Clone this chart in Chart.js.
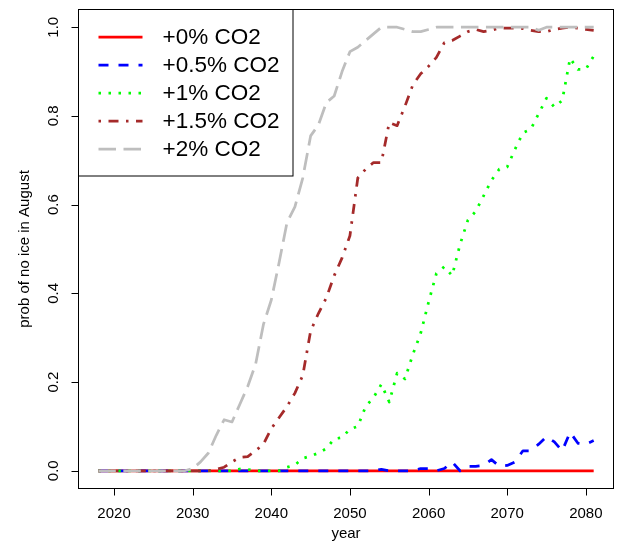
<!DOCTYPE html>
<html>
<head>
<meta charset="utf-8">
<script src="https://cdn.jsdelivr.net/npm/chart.js@4/dist/chart.umd.min.js"></script>
<style>
  html, body { margin: 0; padding: 0; background: #fff; }
  #wrap { width: 619px; height: 543px; }
</style>
</head>
<body>
<div id="wrap"><canvas id="c" width="619" height="543"></canvas></div>
<script>
const years = [
  2018, 2019, 2020, 2021, 2022, 2023, 2024, 2025, 2026, 2027,
  2028, 2029, 2030, 2031, 2032, 2033, 2034, 2035, 2036, 2037,
  2038, 2039, 2040, 2041, 2042, 2043, 2044, 2045, 2046, 2047,
  2048, 2049, 2050, 2051, 2052, 2053, 2054, 2055, 2056, 2057,
  2058, 2059, 2060, 2061, 2062, 2063, 2064, 2065, 2066, 2067,
  2068, 2069, 2070, 2071, 2072, 2073, 2074, 2075, 2076, 2077,
  2078, 2079, 2080, 2081
];

// probability of an ice-free August, one list per CO2 growth rate (2018..2081)
const co2_0 = [
  0, 0, 0, 0, 0, 0, 0, 0, 0, 0,
  0, 0, 0, 0, 0, 0, 0, 0, 0, 0,
  0, 0, 0, 0, 0, 0, 0, 0, 0, 0,
  0, 0, 0, 0, 0, 0, 0, 0, 0, 0,
  0, 0, 0, 0, 0, 0, 0, 0, 0, 0,
  0, 0, 0, 0, 0, 0, 0, 0, 0, 0,
  0, 0, 0, 0
];
const co2_05 = [
  0, 0, 0, 0, 0, 0, 0, 0, 0, 0,
  0, 0, 0, 0, 0, 0, 0, 0, 0, 0,
  0, 0, 0, 0, 0, 0, 0, 0, 0, 0,
  0, 0, 0, 0, 0, 0, 0.003, 0, 0, 0,
  0, 0.005, 0.005, 0, 0.005, 0.02, 0, 0.01, 0.01, 0.012,
  0.025, 0.01, 0.012, 0.02, 0.045, 0.045, 0.06, 0.077, 0.065, 0.045,
  0.087, 0.062, 0.06, 0.068
];
const co2_1 = [
  0, 0, 0, 0, 0, 0, 0, 0, 0, 0,
  0, 0, 0, 0, 0, 0, 0, 0, 0.004, 0.003,
  0, 0, 0, 0, 0.008, 0.013, 0.028, 0.033, 0.04, 0.05,
  0.072, 0.075, 0.094, 0.1, 0.145, 0.165, 0.195, 0.155, 0.22, 0.207,
  0.262, 0.31, 0.38, 0.445, 0.46, 0.44, 0.51, 0.565, 0.585, 0.62,
  0.655, 0.68, 0.685, 0.725, 0.762, 0.77, 0.805, 0.84, 0.82, 0.835,
  0.93, 0.905, 0.905, 0.935
];
const co2_15 = [
  0, 0, 0, 0, 0, 0, 0, 0, 0, 0,
  0, 0, 0, 0, 0, 0.003, 0.008, 0.02, 0.03, 0.032,
  0.045, 0.06, 0.095, 0.12, 0.145, 0.175, 0.215, 0.315, 0.355, 0.39,
  0.44, 0.48, 0.53, 0.66, 0.68, 0.695, 0.695, 0.785, 0.778, 0.822,
  0.87, 0.895, 0.912, 0.932, 0.965, 0.97, 0.98, 0.99, 0.995, 0.99,
  0.993, 0.998, 0.998, 0.998, 0.997, 0.993, 0.99, 0.99, 0.995, 0.998,
  1.0, 0.998, 0.995, 0.993
];
const co2_2 = [
  0, 0, 0, 0, 0, 0, 0, 0, 0, 0,
  0, 0, 0.005, 0.02, 0.04, 0.08, 0.115, 0.11, 0.15, 0.19,
  0.24, 0.33, 0.385, 0.47, 0.56, 0.595, 0.66, 0.755, 0.78, 0.83,
  0.845, 0.9, 0.945, 0.955, 0.97, 0.985, 1.0, 1.0, 1.0, 0.995,
  0.99, 0.99, 0.995, 1.0, 1.0, 1.0, 1.0, 1.0, 1.0, 1.0,
  1.0, 1.0, 1.0, 1.0, 1.0, 1.0, 0.993, 1.0, 1.0, 1.0,
  1.0, 1.0, 1.0, 1.0
];

const seriesLabels = ['+0% CO2', '+0.5% CO2', '+1% CO2', '+1.5% CO2', '+2% CO2'];
const xTicks = [2020, 2030, 2040, 2050, 2060, 2070, 2080];
const yTicks = [0, 0.2, 0.4, 0.6, 0.8, 1.0];

const FONT = '"Liberation Sans", Arial, Helvetica, sans-serif';
const LW = 2.75;

const styles = [
  { color: '#FF0000', dash: [] },
  { color: '#0000FF', dash: [10, 10] },
  { color: '#00FF00', dash: [2.5, 7.5] },
  { color: '#A52A2A', dash: [2.5, 7.5, 10, 7.5] },
  { color: '#BEBEBE', dash: [17.5, 7.5] }
];
const allSeries = [co2_0, co2_05, co2_1, co2_15, co2_2];

const toPoints = vals => years.map((yr, i) => ({ x: yr, y: vals[i] }));

// base-graphics style frame, ticks and labels
const frame = {
  id: 'frame',
  afterDraw(chart) {
    const { ctx, chartArea: a, scales: { x, y } } = chart;
    ctx.save();
    ctx.strokeStyle = '#000';
    ctx.lineWidth = 1;
    ctx.setLineDash([]);
    ctx.strokeRect(a.left, a.top, a.right - a.left, a.bottom - a.top);

    ctx.fillStyle = '#000';
    ctx.font = '15px ' + FONT;

    // x ticks
    ctx.beginPath();
    xTicks.forEach(v => {
      const px = Math.round(x.getPixelForValue(v)) + 0.5;
      ctx.moveTo(px, a.bottom);
      ctx.lineTo(px, a.bottom + 7);
    });
    ctx.stroke();
    ctx.textAlign = 'center';
    ctx.textBaseline = 'alphabetic';
    xTicks.forEach(v => ctx.fillText(String(v), x.getPixelForValue(v), 518));

    // y ticks
    ctx.beginPath();
    yTicks.forEach(v => {
      const py = Math.round(y.getPixelForValue(v)) + 0.5;
      ctx.moveTo(a.left, py);
      ctx.lineTo(a.left - 7, py);
    });
    ctx.stroke();
    yTicks.forEach(v => {
      ctx.save();
      ctx.translate(54, y.getPixelForValue(v));
      ctx.rotate(-Math.PI / 2);
      ctx.textAlign = 'center';
      ctx.textBaseline = 'middle';
      ctx.fillText(v.toFixed(1), 0, 0);
      ctx.restore();
    });

    // axis titles
    ctx.textAlign = 'center';
    ctx.textBaseline = 'middle';
    ctx.fillText('year', (a.left + a.right) / 2, 534);
    ctx.save();
    ctx.translate(25, (a.top + a.bottom) / 2);
    ctx.rotate(-Math.PI / 2);
    ctx.fillText('prob of no ice in August', 0, 0);
    ctx.restore();
    ctx.restore();
  }
};

// boxed legend in the top-left corner of the plot
const boxLegend = {
  id: 'boxLegend',
  afterDraw(chart) {
    const { ctx, chartArea: a } = chart;
    const w = 214.5, h = 166.5;
    ctx.save();
    ctx.fillStyle = '#fff';
    ctx.fillRect(a.left, a.top, w, h);
    ctx.strokeStyle = '#000';
    ctx.lineWidth = 1;
    ctx.setLineDash([]);
    ctx.strokeRect(a.left, a.top, w, h);
    ctx.font = '22.5px ' + FONT;
    ctx.textAlign = 'left';
    ctx.textBaseline = 'middle';
    chart.data.datasets.forEach((ds, i) => {
      const yy = a.top + 27.5 + i * 28;
      ctx.strokeStyle = ds.borderColor;
      ctx.lineWidth = LW;
      ctx.lineCap = 'butt';
      ctx.setLineDash(ds.borderDash);
      ctx.beginPath();
      ctx.moveTo(a.left + 20, yy);
      ctx.lineTo(a.left + 64, yy);
      ctx.stroke();
      ctx.fillStyle = '#000';
      ctx.fillText(ds.label, a.left + 84, yy + 1);
    });
    ctx.restore();
  }
};

new Chart(document.getElementById('c'), {
  type: 'line',
  data: {
    datasets: allSeries.map((vals, i) => ({
      label: seriesLabels[i],
      data: toPoints(vals),
      borderColor: styles[i].color,
      borderDash: styles[i].dash,
      borderWidth: LW,
      borderCapStyle: 'butt',
      borderJoinStyle: 'round',
      pointRadius: 0,
      tension: 0,
      fill: false,
      order: allSeries.length - i
    }))
  },
  options: {
    responsive: false,
    animation: false,
    events: [],
    layout: { padding: { left: 78.5, top: 9.5, right: 5.5, bottom: 54.5 } },
    scales: {
      x: { type: 'linear', min: 2015.48, max: 2083.52, display: false },
      y: { type: 'linear', min: -0.04, max: 1.04, display: false }
    },
    plugins: {
      legend: { display: false },
      tooltip: { enabled: false }
    }
  },
  plugins: [frame, boxLegend]
});
</script>
</body>
</html>
